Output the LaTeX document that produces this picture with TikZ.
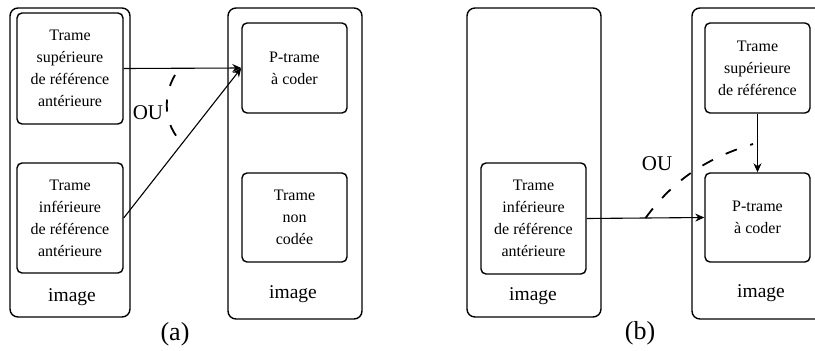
\documentclass[tikz,border=0pt]{standalone}
\usepackage{fontspec}
\setmainfont{Liberation Serif}
\usetikzlibrary{arrows.meta, calc}
\tikzset{
  cadre/.style={draw, line width=1.4pt, rounded corners=8pt, inner sep=0pt},
  trame/.style={draw, line width=1.4pt, rounded corners=5pt, align=center,
    minimum width=106pt, inner sep=0pt, font=\fontsize{16}{22}\selectfont},
  fleche/.style={line width=1.1pt, -{Stealth[length=9pt,width=8pt]}},
  ou/.style={line width=1.8pt, dash pattern=on 12pt off 14pt},
  lbl/.style={font=\fontsize{19.5}{22}\selectfont, anchor=base}
}

\begin{document}
\begin{tikzpicture}[x=1pt, y=-1pt]
  \useasboundingbox (0,0) rectangle (815,351);
  \clip (0,0) rectangle (815,351);
  % --- panel (a) ---
  \begin{scope}
    \node[cadre, minimum width=120pt, minimum height=309pt] (imgA1) at (70,162.5) {};
    \node[cadre, minimum width=134pt, minimum height=311pt] (imgA2) at (295,163.5) {};
    \node[trame, minimum height=111pt] (supA) at (70,68.5) {Trame\\supérieure\\de référence\\antérieure};
    \node[trame, minimum height=110pt] (infA) at (70,218) {Trame\\inférieure\\de référence\\antérieure};
    \node[trame, minimum width=105pt, minimum height=90pt] (codA) at (294.5,68) {P-trame\\à coder};
    \node[trame, minimum width=105pt, minimum height=89pt] (ncA) at (294.5,217.5) {Trame\\non\\codée};
    \node[lbl] (lblA1) at (72,301) {image};
    \node[lbl] (lblA2) at (293,298) {image};
    \draw[fleche] (supA.east) -- (codA.west);
    \draw[fleche] (infA.east) -- (codA.west);
    \coordinate (ouA1) at (175,75);
    \coordinate (ouA2) at ($(infA.east)!0.5!(codA.west)$);
    \draw[ou] (ouA1) .. controls (163,95) and (163,125) .. (ouA2);
    \node[font=\fontsize{21}{22}\selectfont] (ouA) at (148,113) {OU};
    \node[font=\fontsize{26}{30}\selectfont] (capA) at (175,334) {(a)};
  \end{scope}
  % --- panel (b) ---
  \begin{scope}
    \node[cadre, minimum width=134pt, minimum height=309pt] (imgB1) at (534,162.5) {};
    \node[cadre, minimum width=134pt, minimum height=311pt] (imgB2) at (759,163.5) {};
    \node[trame, minimum width=105pt, minimum height=111pt] (infB) at (533.5,218.5) {Trame\\inférieure\\de référence\\antérieure};
    \node[trame, minimum width=105pt, minimum height=90pt] (supB) at (757.5,68) {Trame\\supérieure\\de référence};
    \node[trame, minimum width=105pt, minimum height=89pt] (codB) at (757.5,217.5) {P-trame\\à coder};
    \node[lbl] (lblB1) at (533,300) {image};
    \node[lbl] (lblB2) at (761,297) {image};
    \draw[fleche] (infB.east) -- (codB.west);
    \draw[fleche] (supB.south) -- (codB.north);
    \coordinate (ouB1) at ($(infB.east)!0.5!(codB.west)$);
    \coordinate (ouB2) at (753,144);
    \draw[ou] (ouB1) .. controls (670,185) and (700,160) .. (ouB2);
    \node[font=\fontsize{21}{22}\selectfont] (ouB) at (657,164) {OU};
    \node[font=\fontsize{26}{30}\selectfont] (capB) at (640,333) {(b)};
  \end{scope}
\end{tikzpicture}
\end{document}
